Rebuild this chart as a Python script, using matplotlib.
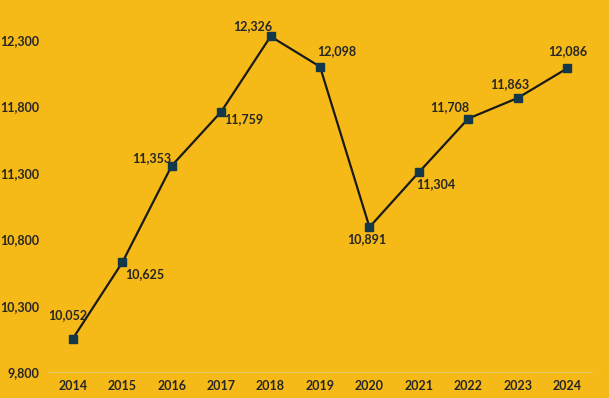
import matplotlib
matplotlib.use("Agg")
import matplotlib.pyplot as plt
from matplotlib.ticker import FuncFormatter

years = [2014, 2015, 2016, 2017, 2018, 2019, 2020, 2021, 2022, 2023, 2024]
values = [10052, 10625, 11353, 11759, 12326, 12098, 10891, 11304, 11708, 11863, 12086]
y_ticks = [9800, 10300, 10800, 11300, 11800, 12300]

BG = "#f5b918"
INK = "#262626"
MARK = "#12384a"

# label offsets (pts) and alignment per point
offsets = [(-4, 13, "center", "bottom"), (2, -4, "left", "top"), (0, 1, "right", "bottom"),
           (2, -1, "left", "top"), (1, 3, "right", "bottom"), (-2, 7, "left", "bottom"),
           (-2, -4, "center", "top"), (-2, -4, "left", "top"), (1, 4, "right", "bottom"),
           (-6, 6, "center", "bottom"), (0, 8, "center", "bottom")]

plt.rcParams["font.family"] = ["Lato", "DejaVu Sans"]

fig = plt.figure(figsize=(6.09, 3.98), dpi=100, facecolor=BG)
ax = fig.add_axes([0.079, 0.065, 0.893, 0.935], facecolor=BG)

ax.plot(years, values, color="#1a1a1a", lw=1.6, marker="s", ms=5.5,
        mfc=MARK, mec=MARK, zorder=3)

for x, v, (dx, dy, ha, va) in zip(years, values, offsets):
    ax.annotate(f"{v:,}", (x, v), textcoords="offset points", xytext=(dx, dy),
                ha=ha, va=va, fontsize=9, fontweight="bold", color=INK)

ax.set_xlim(2013.5, 2024.5)
ax.set_ylim(9800, 12600)
ax.set_xticks(years)
ax.set_yticks(y_ticks)
ax.yaxis.set_major_formatter(FuncFormatter(lambda v, _: f"{int(v):,}"))
ax.tick_params(length=0, labelsize=9, colors=INK, pad=6)
for lab in ax.get_xticklabels():
    lab.set_fontweight("bold")
for lab in ax.get_yticklabels():
    lab.set_fontweight("bold")

for s in ("top", "right", "left"):
    ax.spines[s].set_visible(False)
ax.spines["bottom"].set_color("#e8c860")
ax.spines["bottom"].set_linewidth(0.8)

fig.savefig("out.png", dpi=100, facecolor=BG)
